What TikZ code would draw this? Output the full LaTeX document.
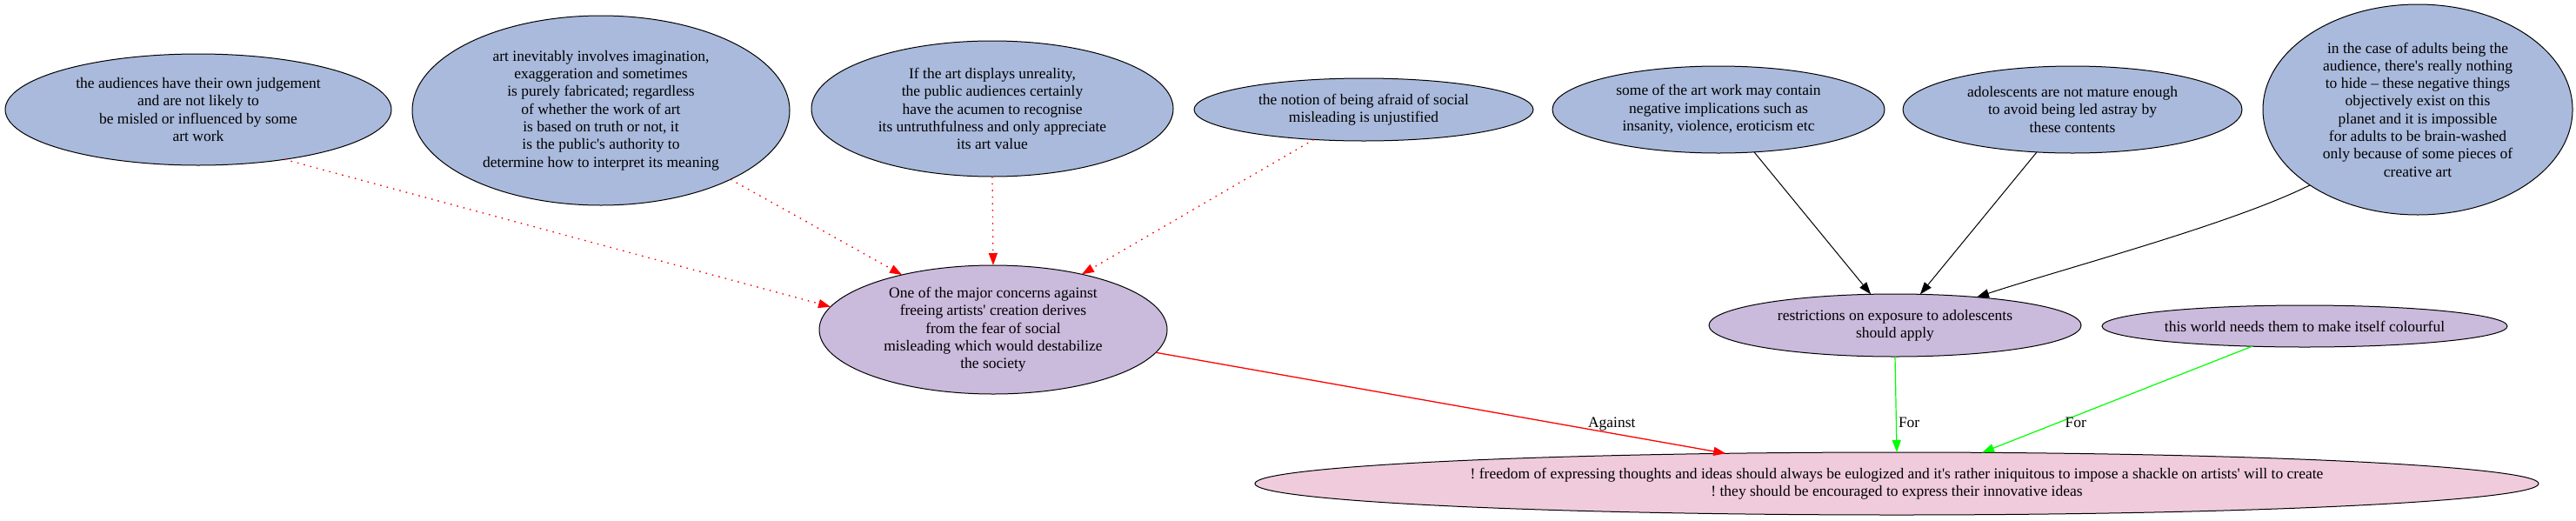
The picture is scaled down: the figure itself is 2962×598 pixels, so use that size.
\documentclass[tikz,border=0pt]{standalone}
\usepackage{fontspec}
\setmainfont{Liberation Serif}[Ligatures=TeXOff]
\usepackage{tikz}
\usetikzlibrary{shapes.geometric,arrows.meta}
\definecolor{premfill}{RGB}{170,186,220}
\definecolor{claimfill}{RGB}{202,186,220}
\definecolor{rootfill}{RGB}{239,203,220}
\frenchspacing

\begin{document}
\begin{tikzpicture}[x=1pt,y=-1pt,font=\fontsize{17.5}{20.3}\selectfont,
  ell/.style={draw,ellipse,line width=1pt,inner sep=0pt,outer sep=0pt,align=center},
  prem/.style={ell,fill=premfill},
  claim/.style={ell,fill=claimfill},
  root/.style={ell,fill=rootfill},
  tip/.style={-{Triangle[length=14pt,width=10pt]}},
  attack/.style={tip,red,line width=1.3pt},
  undercut/.style={attack,dash pattern=on 1.6pt off 6pt},
  support/.style={tip,green,line width=1.2pt},
  link/.style={tip,black,line width=1pt},
  elabel/.style={text=black,inner sep=2pt}]
\useasboundingbox (0,0) rectangle (2962,598);

% Premises, top row
\node[prem,minimum width=444pt,minimum height=128pt] (aud) at (228,126) {the audiences have their own judgement\\and are not likely to\\be misled or influenced by some\\art work};
\node[prem,minimum width=434pt,minimum height=218pt] (fab) at (691,127) {art inevitably involves imagination,\\exaggeration and sometimes\\is purely fabricated; regardless\\of whether the work of art\\is based on truth or not, it\\is the public's authority to\\determine how to interpret its meaning};
\node[prem,minimum width=416pt,minimum height=156pt] (acumen) at (1141,125) {If the art displays unreality,\\the public audiences certainly\\have the acumen to recognise\\its untruthfulness and only appreciate\\its art value};
\node[prem,minimum width=390pt,minimum height=72pt] (notion) at (1568,126) {the notion of being afraid of social\\misleading is unjustified};
\node[prem,minimum width=382pt,minimum height=100pt] (negimpl) at (1976,126) {some of the art work may contain\\negative implications such as\\insanity, violence, eroticism etc};
\node[prem,minimum width=390pt,minimum height=100pt] (immature) at (2383,126) {adolescents are not mature enough\\to avoid being led astray by\\these contents};
\node[prem,minimum width=356pt,minimum height=242pt] (adults) at (2780,126) {in the case of adults being the\\audience, there's really nothing\\to hide – these negative things\\objectively exist on this\\planet and it is impossible\\for adults to be brain-washed\\only because of some pieces of\\creative art};

% Middle claims
\node[claim,minimum width=400pt,minimum height=148pt] (concern) at (1142,379) {One of the major concerns against\\freeing artists' creation derives\\from the fear of social\\misleading which would destabilize\\the society};
\node[claim,minimum width=428pt,minimum height=72pt] (restrict) at (2179,374) {restrictions on exposure to adolescents\\should apply};
\node[claim,minimum width=466pt,minimum height=48pt,inner xsep=-8pt] (colourful) at (2650,375) {this world needs them to make itself colourful};

% Main claim
\node[root,minimum width=1476pt,minimum height=72pt] (freedom) at (2181,556) {! freedom of expressing thoughts and ideas should always be eulogized and it's rather iniquitous to impose a shackle on artists' will to create\\! they should be encouraged to express their innovative ideas};

% premises against the concern
\draw[undercut] (aud.-30.7) -- (concern.172.4);
\draw[undercut] (fab.-28.6) -- (concern.149.6);
\draw[undercut] (acumen.-90) -- (concern.90);
\draw[undercut] (notion.-149) -- (concern.32.2);

% reasons for restrictions
\draw[link] (negimpl.-50.1) -- (restrict.128.9);
\draw[link] (immature.-130) -- (restrict.51.1);
\draw[link] (adults.-145.2) .. controls +(-90,45) and +(100,-33) .. (restrict.19.4);

% into the main claim
\draw[attack] (concern.-8.5) -- node[elabel,pos=0.8,yshift=11pt] {Against} (freedom.170.1);
\draw[support] (restrict.-90) -- node[elabel,pos=0.69,anchor=west] {For} (freedom.90);
\draw[support] (colourful.-159.6) -- node[elabel,pos=0.72,anchor=west,xshift=6pt] {For} (freedom.20.8);
\end{tikzpicture}
\end{document}
